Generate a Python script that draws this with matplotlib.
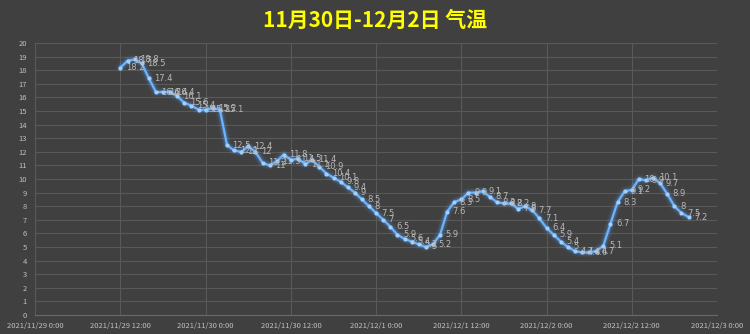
import numpy as np
import pandas as pd
import matplotlib
matplotlib.use('Agg')
import matplotlib.pyplot as plt
import matplotlib.dates as mdates

plt.rcParams['font.family'] = ['Noto Sans CJK SC', 'DejaVu Sans']

# Daten: stuendliche Temperatur ab 2021/11/29 12:00
start = '2021-11-29 12:00'
temps = [18.2, 18.7, 18.8, 18.5, 17.4, 16.4, 16.4, 16.4, 16.1, 15.6,
         15.4, 15.1, 15.1, 15.2, 15.1, 12.5, 12.1, 12.0, 12.4, 12.0,
         11.2, 11.0, 11.3, 11.8, 11.4, 11.5, 11.1, 11.4, 10.9, 10.4,
         10.1, 9.8, 9.4, 9.0, 8.5, 8.0, 7.5, 7.0, 6.5, 5.9,
         5.6, 5.4, 5.2, 5.0, 5.2, 5.9, 7.6, 8.3, 8.5, 9.0,
         9.0, 9.1, 8.7, 8.3, 8.2, 8.2, 7.8, 8.0, 7.7, 7.1,
         6.4, 5.9, 5.4, 5.0, 4.7, 4.6, 4.6, 4.7, 5.1, 6.7,
         8.3, 9.1, 9.2, 10.0, 9.9, 10.1, 9.7, 8.9, 8.0, 7.5,
         7.2]
zeiten = pd.date_range(start, periods=len(temps), freq='h')
x_start = pd.Timestamp('2021-11-29 00:00')
x_ende = pd.Timestamp('2021-12-03 00:00')
titel = '11月30日-12月2日 气温'

bg = '#404040'
fig = plt.figure(figsize=(7.5, 3.34), dpi=100, facecolor=bg)
ax = fig.add_axes([0.047, 0.057, 0.909, 0.814], facecolor=bg)

# Glow-Effekt
for lw, a in [(7, 0.06), (5, 0.10), (3.5, 0.18)]:
    ax.plot(zeiten, temps, color='#5fa8ff', lw=lw, alpha=a, solid_capstyle='round')
ax.plot(zeiten, temps, color='#6cb4ff', lw=1.6, marker='o', ms=2,
        mfc='#9fd0ff', mec='#9fd0ff')

for t, v in zip(zeiten, temps):
    ax.annotate(f'{v:g}', (t, v), xytext=(4, 0), textcoords='offset points',
                ha='left', va='center', fontsize=6, color='#b8b8b8',
                family=['DejaVu Sans'])

ax.set_xlim(x_start, x_ende)
ax.set_ylim(0, 20)
ax.set_yticks(range(0, 21))
ax.xaxis.set_major_locator(mdates.HourLocator(byhour=[0, 12]))

def fmt(x, pos):
    d = mdates.num2date(x)
    return f'{d.year}/{d.month}/{d.day} {d.hour}:{d.minute:02d}'

ax.xaxis.set_major_formatter(plt.FuncFormatter(fmt))
ax.grid(True, color='#595959', lw=0.8)
ax.set_axisbelow(True)
for s in ['top', 'right', 'left']:
    ax.spines[s].set_visible(False)
ax.spines['bottom'].set_color('#6a6a6a')
ax.tick_params(axis='both', length=0, colors='#bfbfbf', labelsize=5.5)
ax.tick_params(axis='x', pad=5)
ax.tick_params(axis='y', pad=6)

fig.text(0.5, 0.94, titel, ha='center', va='center', fontsize=15,
         fontweight='bold', color='#ffff00')

fig.savefig('out.png', facecolor=bg)
